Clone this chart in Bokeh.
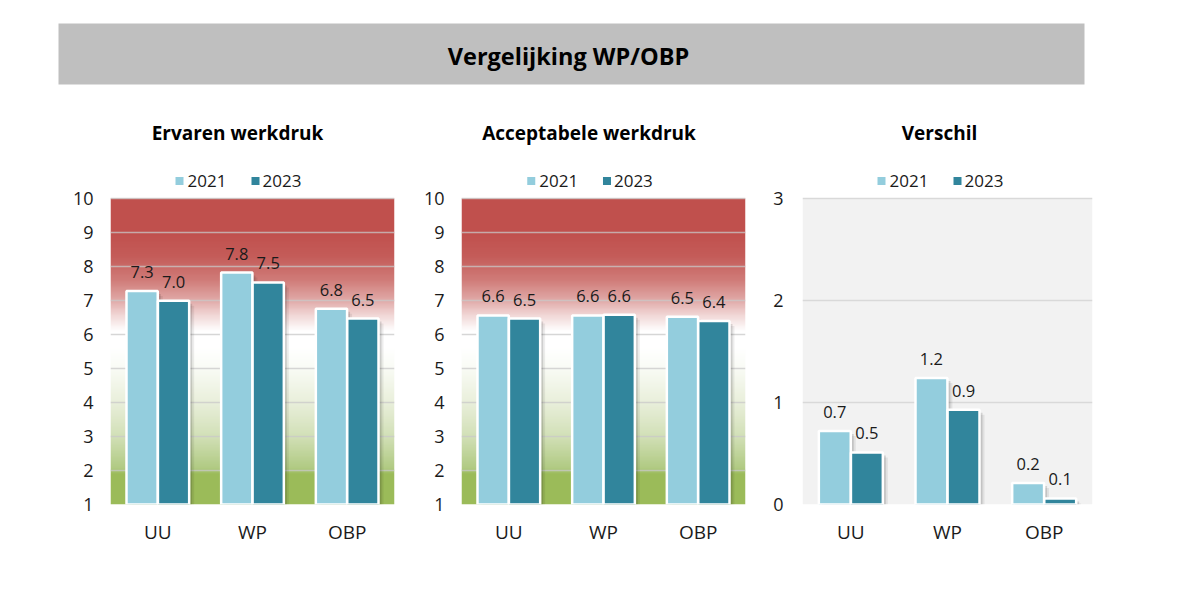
import numpy as np
from bokeh.plotting import figure
from bokeh.models import Range1d, FactorRange, FixedTicker, ColumnDataSource
from bokeh.transform import dodge
from bokeh.layouts import column, row
from bokeh.core.properties import value
from bokeh.embed import file_html
from bokeh.resources import INLINE

# ---------------- data ----------------
main_title = "Vergelijking WP/OBP"
panel_titles = ["Ervaren werkdruk", "Acceptabele werkdruk", "Verschil"]
categories = ["UU", "WP", "OBP"]
series_names = ["2021", "2023"]

ervaren_2021 = [7.28, 7.82, 6.76]
ervaren_2023 = [6.99, 7.53, 6.47]
accept_2021 = [6.56, 6.56, 6.52]
accept_2023 = [6.47, 6.58, 6.40]
verschil_2021 = [0.72, 1.24, 0.21]
verschil_2023 = [0.51, 0.93, 0.06]

score_ticks = [1, 2, 3, 4, 5, 6, 7, 8, 9, 10]
diff_ticks = [0, 1, 2, 3]

# ---------------- style / layout ----------------
FONT = "Open Sans"
C2021 = "#93CDDD"
C2023 = "#31859C"
TXT = "#1A1A1A"
PAGE_W = 1192
HDR_H = 100          # header figure: page y 0..100
FRAME_TOP = 100      # page y of the panel frames' top
AXIS_TOP = 198       # page y of the highest tick
AXIS_BOT = 504       # page y of the lowest tick
BORDER_BOTTOM = 60
PANEL_H = (AXIS_BOT - FRAME_TOP) + BORDER_BOTTOM
HALF = 0.166
BAR_W = 0.33

gradient_stops = [
    (1.0, "#9BBB59"), (1.9, "#9BBB59"), (2.05, "#B0CA82"), (3.0, "#D2E0B7"),
    (4.0, "#E9EFDB"), (5.0, "#F9FBF5"), (5.6, "#FFFFFF"), (6.1, "#FFFFFF"),
    (6.6, "#F0D4D3"), (7.0, "#E1AAA8"), (7.6, "#D07C79"), (8.3, "#C45C59"),
    (9.0, "#C0504D"), (10.0, "#C0504D"),
]


def hex_to_rgb(h):
    h = h.lstrip("#")
    return [int(h[i:i + 2], 16) for i in (0, 2, 4)]


def gradient_image(y0, y1, n=360):
    vals = [s[0] for s in gradient_stops]
    rgbs = np.array([hex_to_rgb(s[1]) for s in gradient_stops], dtype=float)
    ys = np.linspace(y0, y1, n)
    img = np.empty((n, 2), dtype=np.uint32)
    view = img.view(dtype=np.uint8).reshape((n, 2, 4))
    for k in range(3):
        ch = np.interp(ys, vals, rgbs[:, k]).round().astype(np.uint8)
        view[:, :, k] = ch[:, None]
    view[:, :, 3] = 255
    return img


# ---------------- header (title band) ----------------
hdr = figure(width=PAGE_W, height=HDR_H, x_range=Range1d(0, PAGE_W),
             y_range=Range1d(HDR_H, 0), toolbar_location=None,
             output_backend="svg", x_axis_location=None, y_axis_location=None,
             min_border=0, outline_line_color=None)
hdr.grid.visible = False
hdr.quad(left=[58], right=[1084], top=[23], bottom=[84],
         fill_color="#BFBFBF", line_color=None)
hdr.text(x=[568], y=[55.5], text=[main_title], text_font=value(FONT),
         text_font_style="bold", text_font_size="23.5px", text_align="center",
         text_baseline="middle", text_color="#000000")


# ---------------- panels ----------------
def make_panel(title, center_px, v21, v23, y0, y1, ticks, page_left, width,
               left, right, standoff, gradient):
    pxy = (AXIS_BOT - AXIS_TOP) / float(y1 - y0)
    ytop = y1 + (AXIS_TOP - FRAME_TOP) / pxy
    frame_w = width - left - right
    pxx = frame_w / 3.0
    frame_left = page_left + left

    def X(page_x):
        return (page_x - frame_left) / pxx

    def Y(page_y):
        return y1 + (AXIS_TOP - page_y) / pxy

    p = figure(width=width, height=PANEL_H,
               x_range=FactorRange(*categories, range_padding=0),
               y_range=Range1d(y0, ytop), toolbar_location=None,
               output_backend="svg", min_border_left=left,
               min_border_right=right, min_border_top=0,
               min_border_bottom=BORDER_BOTTOM, outline_line_color=None)

    if gradient:
        p.image_rgba(image=[gradient_image(y0, y1)], x=0, y=y0, dw=3, dh=y1 - y0,
                     level="image")
        p.ygrid.grid_line_color = "#C8C8C8"
        p.ygrid.grid_line_alpha = 0.75
    else:
        p.quad(left=0, right=3, bottom=y0, top=y1, fill_color="#F2F2F2",
               line_color=None, level="image")
        p.ygrid.grid_line_color = "#D9D9D9"
    p.ygrid.grid_line_width = 1.5
    p.xgrid.visible = False

    # subtitle and legend (inside the frame, above the value area)
    p.text(x=[X(center_px)], y=[Y(132.6)], text=[title], text_font=value(FONT),
           text_font_style="bold", text_font_size="19px", text_align="center",
           text_baseline="middle", text_color="#000000")
    p.scatter(x=[X(center_px - 58), X(center_px + 18)], y=[Y(180.5)] * 2,
              marker="square", size=8, fill_color=[C2021, C2023],
              line_color=None)
    p.text(x=[X(center_px - 50), X(center_px + 25)], y=[Y(180.6)] * 2,
           text=series_names, text_font=value(FONT), text_font_size="17px",
           text_align="left", text_baseline="middle", text_color=TXT)

    src = ColumnDataSource(dict(
        cat=categories, a=v21, b=v23,
        la=["%.1f" % v for v in v21], lb=["%.1f" % v for v in v23],
        a_s1=[v - 3 / pxy for v in v21], b_s1=[v - 3 / pxy for v in v23],
        a_s2=[v - 5 / pxy for v in v21], b_s2=[v - 5 / pxy for v in v23],
    ))

    # soft drop shadows
    for key, off in (("a", -HALF), ("b", HALF)):
        p.vbar(x=dodge("cat", off + 5 / pxx, range=p.x_range), top=key + "_s2",
               bottom=y0, width=BAR_W, source=src, fill_color="#000000",
               fill_alpha=0.07, line_color=None)
        p.vbar(x=dodge("cat", off + 3 / pxx, range=p.x_range), top=key + "_s1",
               bottom=y0, width=BAR_W, source=src, fill_color="#000000",
               fill_alpha=0.13, line_color=None)

    p.vbar(x=dodge("cat", -HALF, range=p.x_range), top="a", bottom=y0,
           width=BAR_W, source=src, fill_color=C2021, line_color="white",
           line_width=2.5)
    p.vbar(x=dodge("cat", HALF, range=p.x_range), top="b", bottom=y0,
           width=BAR_W, source=src, fill_color=C2023, line_color="white",
           line_width=2.5)

    for key, lab, off in (("a", "la", -HALF), ("b", "lb", HALF)):
        p.text(x=dodge("cat", off, range=p.x_range), y=key, text=lab,
               source=src, text_font=value(FONT), text_font_size="16.5px",
               text_align="center", text_baseline="middle",
               y_offset=-19, text_color=TXT)

    p.yaxis.ticker = FixedTicker(ticks=ticks)
    for ax in (p.xaxis[0], p.yaxis[0]):
        ax.axis_line_color = None
        ax.major_tick_line_color = None
        ax.minor_tick_line_color = None
        ax.major_tick_out = 0
        ax.major_tick_in = 0
        ax.minor_tick_out = 0
        ax.major_label_text_font = FONT
        ax.major_label_text_color = TXT
    p.yaxis.major_label_text_font_size = "18px"
    p.yaxis.major_label_standoff = standoff
    p.xaxis.major_label_text_font_size = "19px"
    p.xaxis.major_label_standoff = 14
    return p


p1 = make_panel(panel_titles[0], 237, ervaren_2021, ervaren_2023, 1, 10,
                score_ticks, 0, 420, 110, 26, 17, True)
p2 = make_panel(panel_titles[1], 588, accept_2021, accept_2023, 1, 10,
                score_ticks, 420, 340, 40, 15, 17, True)
p3 = make_panel(panel_titles[2], 939, verschil_2021, verschil_2023, 0, 3,
                diff_ticks, 760, 432, 42, 100, 19, False)

layout = column(hdr, row(p1, p2, p3))

open("out.html", "w").write(file_html(layout, INLINE))
